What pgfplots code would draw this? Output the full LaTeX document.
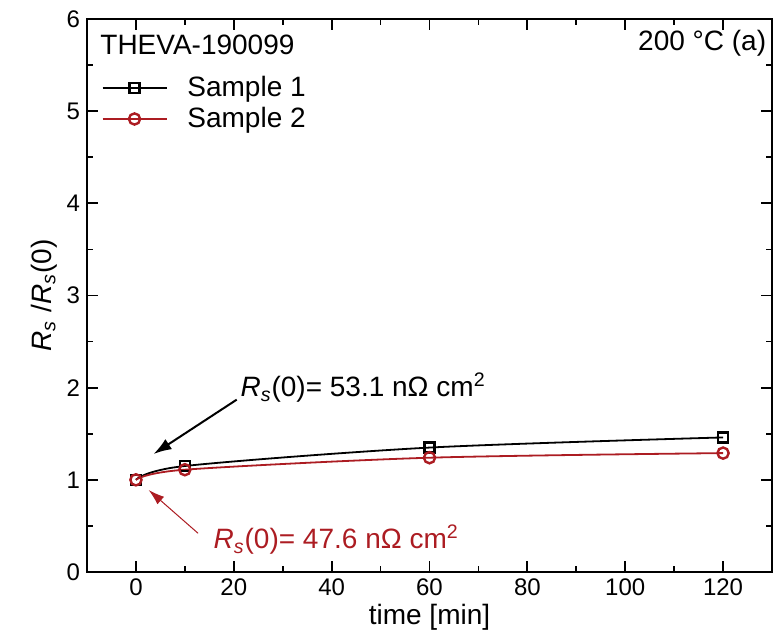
\documentclass[border=0pt]{standalone}
\usepackage{fontspec}
\setmainfont{Liberation Sans}
\usepackage{pgfplots}
\pgfplotsset{compat=1.18}
\usetikzlibrary{arrows.meta}
\definecolor{myred}{RGB}{172,28,34}
\begin{document}
\begin{tikzpicture}
\begin{axis}[
  scale only axis, width=342.5pt, height=276.5pt,
  xmin=-10, xmax=130, ymin=0, ymax=6,
  xtick={0,20,...,120}, ytick={0,1,...,6},
  minor x tick num=1, minor y tick num=1,
  tick align=inside, major tick length=5.5pt, minor tick length=3pt,
  axis line style={line width=1.2pt},
  tick style={line width=0.9pt, black},
  /pgf/number format/assume math mode=true,
  ticklabel style={font=\fontsize{12}{14}\selectfont},
  label style={font=\fontsize{14}{16}\selectfont},
  xlabel={time [min]},
  ylabel={\textit{R}\textsubscript{\textit{s}} /\textit{R}\textsubscript{\textit{s}}(0)},
  xlabel style={yshift=3pt},
  ylabel style={yshift=-2pt},
  legend style={at={(0.012,0.912)}, anchor=north west, draw=none, fill=none,
    font=\fontsize{14}{16}\selectfont, row sep=0pt, column sep=8pt},
  legend cell align=left,
  legend image code/.code={\draw[mark repeat=2,mark phase=2,#1] plot coordinates {(0pt,0pt) (16pt,0pt) (32pt,0pt)};},
]
\addplot[black, line width=0.9pt, smooth, mark=square, mark size=2.5pt, mark options={line width=1.2pt, solid}]
  coordinates {(0,1.00) (10,1.15) (60,1.35) (120,1.46)};
\addlegendentry{Sample 1}
\addplot[myred, line width=0.9pt, smooth, mark=o, mark size=2.8pt, mark options={line width=1.2pt, solid}]
  coordinates {(0,1.00) (10,1.11) (60,1.24) (120,1.29)};
\addlegendentry{Sample 2}
\node[anchor=west, font=\fontsize{14}{16}\selectfont, inner sep=0pt] at (rel axis cs:0.019,0.953) {THEVA-190099};
\node[anchor=east, font=\fontsize{14}{16}\selectfont, inner sep=0pt] at (rel axis cs:0.992,0.957) {200 °C (a)};
\node[anchor=west, font=\fontsize{14}{16}\selectfont, inner sep=0pt] at (axis cs:21.3,2.0)
  {\textit{R}\textsubscript{\textit{s}}(0)= 53.1 nΩ cm\textsuperscript{2}};
\draw[-{Latex[length=9pt,width=6pt]}, line width=1pt] (axis cs:20.6,1.87) -- (axis cs:3.6,1.28);
\node[anchor=west, font=\fontsize{14}{16}\selectfont, inner sep=0pt, text=myred] at (axis cs:15.8,0.35)
  {\textit{R}\textsubscript{\textit{s}}(0)= 47.6 nΩ cm\textsuperscript{2}};
\draw[myred, -{Latex[length=8pt,width=5pt]}, line width=0.5pt] (axis cs:12.7,0.42) -- (axis cs:2.6,0.89);
\end{axis}
\path (-43.5pt,-32.5pt) rectangle (344.5pt,286pt);
\end{tikzpicture}
\end{document}
